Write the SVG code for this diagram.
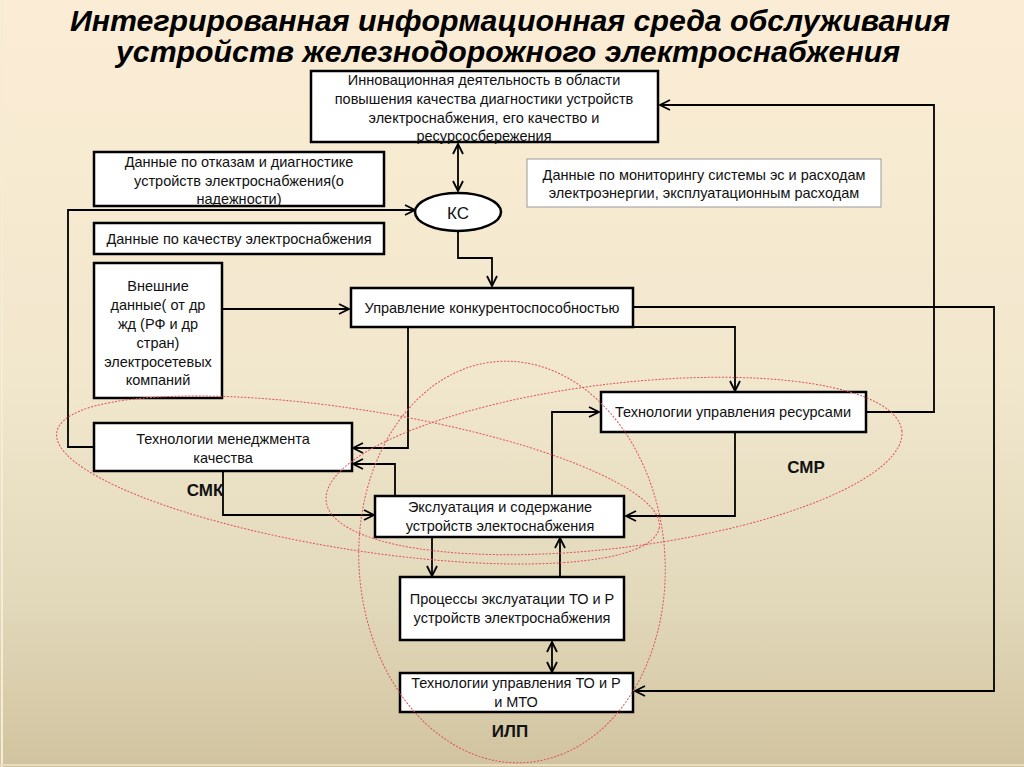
<svg xmlns="http://www.w3.org/2000/svg" width="1024" height="767" viewBox="0 0 1024 767">
<defs>
<linearGradient id="bg" x1="0" y1="0" x2="0" y2="1">
<stop offset="0" stop-color="#fbedd5"/>
<stop offset="0.5" stop-color="#f1e7cd"/>
<stop offset="0.78" stop-color="#e2d9bb"/>
<stop offset="1" stop-color="#d1c39f"/>
</linearGradient>
<marker id="arr" viewBox="0 0 12 12" refX="11" refY="6" markerWidth="12" markerHeight="12" orient="auto-start-reverse" markerUnits="userSpaceOnUse">
<path d="M1,1 L11,6 L1,11" fill="none" stroke="#000" stroke-width="1.8"/>
</marker>
<style>
.box{fill:#fff;stroke:#000;stroke-width:2.5}
.thin{fill:#fff;stroke:#9a9a9a;stroke-width:1}
.t{font-family:"Liberation Sans",Arial,sans-serif;font-size:14.5px;fill:#111;text-anchor:middle}
.lab{font-family:"Liberation Sans",Arial,sans-serif;font-size:17px;font-weight:bold;fill:#111;text-anchor:middle}
.title{font-family:"Liberation Sans",Arial,sans-serif;font-size:30px;font-weight:bold;font-style:italic;fill:#000;text-anchor:middle}
.c{fill:none;stroke:#000;stroke-width:1.8}
.e{fill:none;stroke:#e0505a;stroke-width:1;stroke-dasharray:2 1.5}
</style>
</defs>
<rect x="0" y="0" width="1024" height="767" fill="url(#bg)"/>
<line x1="2" y1="0" x2="2" y2="767" stroke="#f6ecd4" stroke-width="2"/>
<line x1="0" y1="765" x2="1024" y2="765" stroke="#e6dcc0" stroke-width="2"/>

<g id="title">
<text class="title" x="510" y="31" textLength="880" lengthAdjust="spacingAndGlyphs">Интегрированная информационная среда обслуживания</text>
<text class="title" x="508" y="62" textLength="784" lengthAdjust="spacingAndGlyphs">устройств железнодорожного электроснабжения</text>
</g>

<g id="connectors">
<path class="c" d="M458,191 L458,144" marker-start="url(#arr)" marker-end="url(#arr)"/>
<path class="c" d="M222,309 L349,309" marker-end="url(#arr)"/>
<path class="c" d="M94,447 L68,447 L68,210 L415,210" marker-end="url(#arr)"/>
<path class="c" d="M458,231 L458,258 L492,258 L492,286" marker-end="url(#arr)"/>
<path class="c" d="M408,327 L408,448 L353,448" marker-end="url(#arr)"/>
<path class="c" d="M620,327 L735,327 L735,391" marker-end="url(#arr)"/>
<path class="c" d="M633,307 L994,307 L994,691 L635,691" marker-end="url(#arr)"/>
<path class="c" d="M866,412 L934,412 L934,105 L660,105" marker-end="url(#arr)"/>
<path class="c" d="M735,432 L735,516 L626,516" marker-end="url(#arr)"/>
<path class="c" d="M223,471 L223,515 L374,515" marker-end="url(#arr)"/>
<path class="c" d="M395,496 L395,464 L353,464" marker-end="url(#arr)"/>
<path class="c" d="M552,496 L552,412 L599,412" marker-end="url(#arr)"/>
<path class="c" d="M432,537 L432,576" marker-end="url(#arr)"/>
<path class="c" d="M560,577 L560,538" marker-end="url(#arr)"/>
<path class="c" d="M552,642 L552,672" marker-start="url(#arr)" marker-end="url(#arr)"/>
</g>

<g id="innov">
<rect class="box" x="311" y="71" width="347" height="71"/>
<text class="t" x="484" y="85">Инновационная деятельность в области</text>
<text class="t" x="484" y="104">повышения качества диагностики устройств</text>
<text class="t" x="484" y="123">электроснабжения, его качество и</text>
<text class="t" x="484" y="141">ресурсосбережения</text>
</g>

<g id="otkazy">
<rect class="box" x="94" y="152" width="290" height="54"/>
<text class="t" x="239" y="167">Данные по отказам и диагностике</text>
<text class="t" x="239" y="186">устройств электроснабжения(о</text>
<text class="t" x="239" y="204">надежности)</text>
</g>

<g id="kachestvo">
<rect class="box" x="94" y="223" width="290" height="31"/>
<text class="t" x="239" y="244">Данные по качеству электроснабжения</text>
</g>

<g id="vneshnie">
<rect class="box" x="94" y="263" width="128" height="135"/>
<text class="t" x="158" y="291">Внешние</text>
<text class="t" x="158" y="310">данные( от др</text>
<text class="t" x="158" y="329">жд (РФ и др</text>
<text class="t" x="158" y="348">стран)</text>
<text class="t" x="158" y="367">электросетевых</text>
<text class="t" x="158" y="385">компаний</text>
</g>

<g id="ks">
<ellipse cx="458" cy="212" rx="43" ry="19" fill="#fff" stroke="#000" stroke-width="2.5"/>
<text class="t" x="458" y="219" style="font-size:17px">КС</text>
</g>

<g id="monitoring">
<rect class="thin" x="527" y="159" width="354" height="48"/>
<text class="t" x="704" y="180">Данные по мониторингу системы эс и расходам</text>
<text class="t" x="704" y="198">электроэнергии, эксплуатационным расходам</text>
</g>

<g id="upravlenie">
<rect class="box" x="351" y="288" width="282" height="39"/>
<text class="t" x="492" y="313">Управление конкурентоспособностью</text>
</g>

<g id="resursy">
<rect class="box" x="601" y="392" width="265" height="40"/>
<text class="t" x="733" y="417">Технологии управления ресурсами</text>
</g>

<g id="menedzhment">
<rect class="box" x="94" y="423" width="258" height="48"/>
<text class="t" x="223" y="444">Технологии менеджмента</text>
<text class="t" x="223" y="463">качества</text>
</g>

<g id="ekspluatacia">
<rect class="box" x="375" y="496" width="249" height="41"/>
<text class="t" x="500" y="512">Экслуатация и содержание</text>
<text class="t" x="500" y="531">устройств электоснабжения</text>
</g>

<g id="processy">
<rect class="box" x="400" y="577" width="224" height="63"/>
<text class="t" x="512" y="604">Процессы экслуатации ТО и Р</text>
<text class="t" x="512" y="623">устройств электроснабжения</text>
</g>

<g id="to-mto">
<rect class="box" x="400" y="673" width="233" height="39"/>
<text class="t" x="516" y="688">Технологии управления ТО и Р</text>
<text class="t" x="516" y="707">и МТО</text>
</g>

<g id="groups">
<ellipse class="e" cx="358" cy="480" rx="305" ry="70" transform="rotate(9 358 480)"/>
<ellipse class="e" cx="614" cy="466" rx="290" ry="82" transform="rotate(-7 614 466)"/>
<ellipse class="e" cx="512" cy="562" rx="153" ry="201" transform="rotate(-4 512 562)"/>
<text class="lab" x="205" y="496">СМК</text>
<text class="lab" x="806" y="473">СМР</text>
<text class="lab" x="510" y="737">ИЛП</text>
</g>
</svg>
